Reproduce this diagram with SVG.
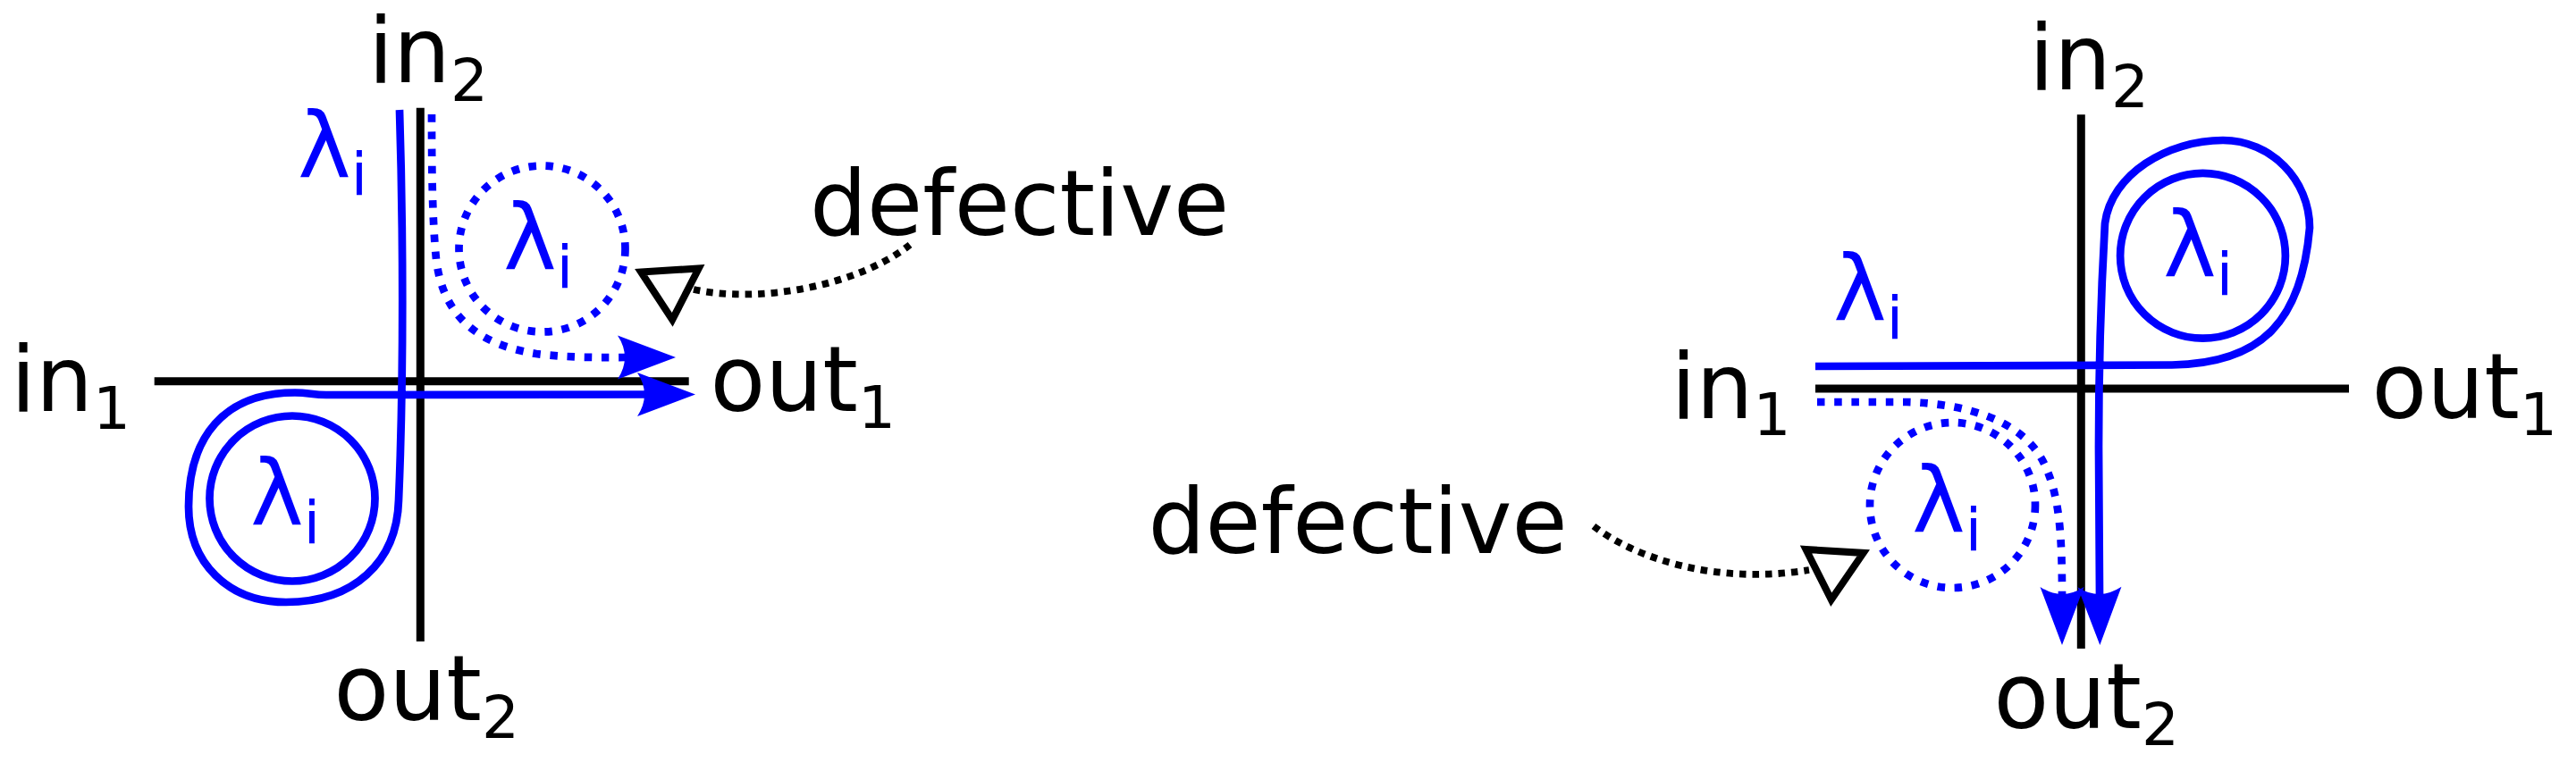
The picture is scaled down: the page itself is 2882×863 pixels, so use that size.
<svg xmlns="http://www.w3.org/2000/svg" width="2882" height="863" viewBox="0 0 2882 863">
<style>
.t{font-family:"DejaVu Sans",Verdana,sans-serif;font-size:101px;fill:#000}
.b{fill:#0000ff}
.s{font-size:66px}
.ax{stroke:#000;stroke-width:9;fill:none}
.bl{stroke:#0000ff;stroke-width:8.7;fill:none}
.bd{stroke:#0000ff;stroke-width:8.7;fill:none;stroke-dasharray:8.5 10.7}
.kd{stroke:#000;stroke-width:7.8;fill:none;stroke-dasharray:7.5 7}
.tri{stroke:#000;stroke-width:8;fill:none;stroke-linejoin:miter}
</style>
<defs>
<marker id="ah" markerUnits="userSpaceOnUse" viewBox="0 -27 72 54" markerWidth="72" markerHeight="54" refX="8" refY="0" orient="auto" overflow="visible">
<path d="M0 -24.5 L65 0 L0 24.5 Q16 0 0 -24.5Z" fill="#0000ff"/>
</marker>
</defs>
<rect width="2882" height="863" fill="#fff"/>

<g id="left-junction">
<line class="ax" x1="172.7" y1="426.7" x2="770.7" y2="426.7"/>
<line class="ax" x1="470.3" y1="120.7" x2="470.3" y2="718"/>
</g>
<g id="right-junction">
<line class="ax" x1="2031" y1="435" x2="2628" y2="435"/>
<line class="ax" x1="2328.3" y1="128.3" x2="2328.3" y2="726"/>
</g>

<g id="left-rings">
<circle class="bl" cx="327" cy="558" r="92.5"/>
<circle class="bd" cx="606.5" cy="278.5" r="93"/>
</g>
<g id="right-rings">
<circle class="bl" cx="2464.5" cy="286.3" r="92.4"/>
<circle class="bd" cx="2184.5" cy="565.5" r="92.5"/>
</g>

<g id="defect-markers">
<polygon class="tri" points="717.2,304.5 781.7,300.5 752.2,357.9"/>
<polygon class="tri" points="2020.5,615 2084.7,618.9 2048.8,671.2"/>
</g>

<g id="connectors">
<path class="bl" marker-end="url(#ah)" d="M447 123 C451 250 452 420 446 560 C444 630 395 674 320 674 C255 674 211 630 211 567 C211 490 250 439.5 330 439.5 C345 439.5 350 442 365 442 L721 441.5"/>
<path class="bd" marker-end="url(#ah)" d="M483 128 C483 200 484 250 488 290 C495 350 530 385 600 396 C640 401 680 400 699 400"/>
<path class="kd" d="M776 324 C850 340 960 320 1018 274"/>
<path class="bl" marker-end="url(#ah)" d="M2031 410 L2430 408.5 C2530 407 2575 360 2584 255 C2584 201.4 2540.6 157 2487 157 C2425 157 2362 195 2355 250 C2351 320 2348 420 2348 500 L2349 665"/>
<path class="bd" marker-end="url(#ah)" d="M2033 450 L2133 450 C2200 452 2260 470 2285 515 C2303 550 2307 590 2307 665"/>
<path class="kd" d="M1783 589 C1830 625 1920 655 2024 638"/>
</g>

<g id="labels">
<text class="t" x="12" y="460">in<tspan class="s" dy="19.5">1</tspan></text>
<text class="t" x="412" y="92">in<tspan class="s" dy="20.5">2</tspan></text>
<text class="t" x="794.5" y="460">out<tspan class="s" dy="19">1</tspan></text>
<text class="t" x="373.5" y="805.5">out<tspan class="s" dy="20">2</tspan></text>
<text class="t b" x="333" y="198">λ<tspan class="s" dy="20">i</tspan></text>
<text class="t b" x="563" y="300.5">λ<tspan class="s" dy="21">i</tspan></text>
<text class="t b" x="280" y="587">λ<tspan class="s" dy="21">i</tspan></text>
<text class="t" x="906" y="263">defective</text>
<text class="t" x="2270" y="100">in<tspan class="s" dy="20">2</tspan></text>
<text class="t" x="1869.5" y="468">in<tspan class="s" dy="19">1</tspan></text>
<text class="t" x="2653.5" y="468">out<tspan class="s" dy="19">1</tspan></text>
<text class="t" x="2230.5" y="815">out<tspan class="s" dy="19">2</tspan></text>
<text class="t b" x="2051" y="358">λ<tspan class="s" dy="21">i</tspan></text>
<text class="t b" x="2420" y="309">λ<tspan class="s" dy="21">i</tspan></text>
<text class="t b" x="2139" y="595">λ<tspan class="s" dy="21">i</tspan></text>
<text class="t" x="1284.5" y="619">defective</text>
</g>
</svg>
